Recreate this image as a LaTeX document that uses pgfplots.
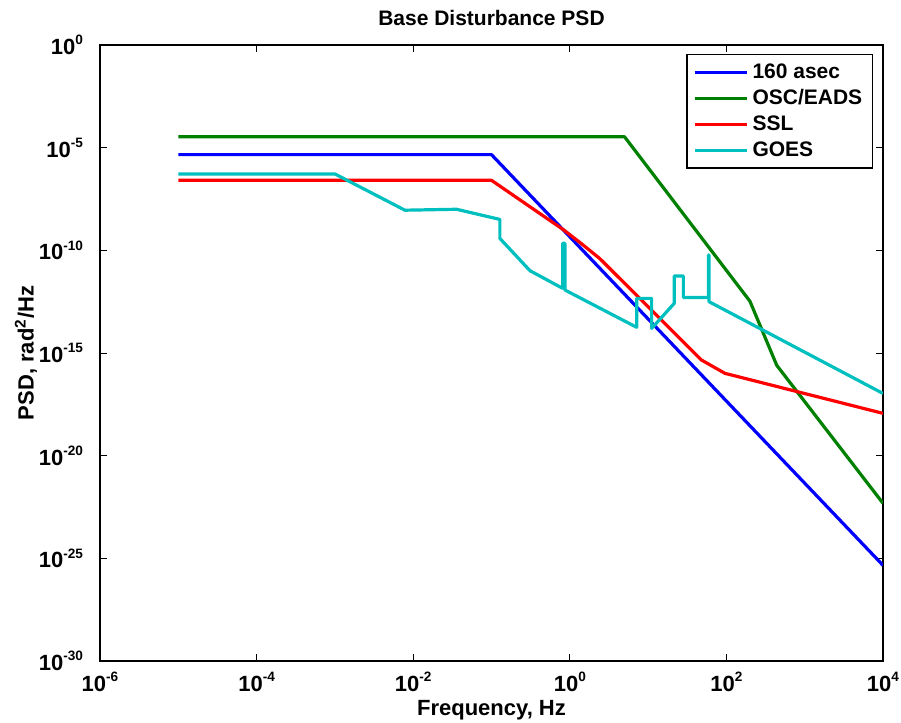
\documentclass[border=0pt]{standalone}
\usepackage{fontspec}
\setmainfont{Liberation Sans}
\usepackage{pgfplots}
\pgfplotsset{compat=1.18}
\usetikzlibrary{calc}
\definecolor{mblue}{rgb}{0,0,1}
\definecolor{mgreen}{rgb}{0,0.5,0}
\definecolor{mred}{rgb}{1,0,0}
\definecolor{mcyan}{rgb}{0,0.75,0.75}
\newcommand{\tl}[1]{\textbf{10}\raisebox{0.85ex}{\fontsize{6.8}{8}\selectfont\bfseries #1}}
\begin{document}
\begin{tikzpicture}
\begin{axis}[
  scale only axis,
  width=391.5pt, height=308pt,
  xmode=log, ymode=log,
  xmin=1e-6, xmax=1e4, ymin=1e-30, ymax=1,
  xtick={1e-6,1e-4,1e-2,1,1e2,1e4},
  xticklabels={\tl{-6},\tl{-4},\tl{-2},\tl{0},\tl{2},\tl{4}},
  ytick={1e-30,1e-25,1e-20,1e-15,1e-10,1e-5,1},
  yticklabels={\tl{-30},\tl{-25},\tl{-20},\tl{-15},\tl{-10},\tl{-5},\tl{0}},
  minor tick num=0,
  minor xtick={}, minor ytick={},
  tick align=inside,
  major tick length=3.5pt,
  tick style={line width=0.5pt, black},
  axis line style={line width=0.6pt},
  tick label style={font=\fontsize{11}{13}\selectfont\bfseries},
  xticklabel style={yshift=-2pt},
  yticklabel style={xshift=-5pt},
  title={\textbf{Base Disturbance PSD}},
  title style={font=\fontsize{10.5}{12}\selectfont, yshift=0pt},
  xlabel={\textbf{Frequency, Hz}},
  ylabel={\textbf{PSD, rad\textsuperscript{2}/Hz}},
  label style={font=\fontsize{11}{13}\selectfont},
  xlabel style={yshift=2.5pt},
  ylabel style={yshift=-6pt},
  legend style={at={(rel axis cs:0.987,0.985)}, anchor=north east,
    font=\fontsize{10.5}{13}\selectfont\bfseries, draw=black, line width=0.6pt,
    inner xsep=3pt, inner ysep=2.5pt, row sep=0pt},
  legend cell align=left,
  legend image code/.code={\draw[#1, line width=1.6pt] (0cm,0cm) -- (0.92cm,0cm);},
  every axis plot/.append style={line width=1.6pt, line join=round},
  clip=true,
]
\path (rel axis cs:0,0) coordinate (bl) (rel axis cs:1,1) coordinate (tr);
\addplot[mblue] coordinates {(1e-5,4.57e-6) (0.1,4.57e-6) (1e4,4.57e-26)};
\addlegendentry{160 asec}
\addplot[mgreen] coordinates {(1e-5,3.4e-5) (5,3.4e-5) (200,3.3e-13) (440,2.5e-16) (1e4,4.8e-23)};
\addlegendentry{OSC/EADS}
\addplot[mred] coordinates {(1e-5,2.57e-7) (0.1,2.57e-7) (0.316,1.26e-8) (0.832,1.0e-9) (1.413,2.09e-10) (2.43,3.89e-11) (47.9,4.57e-16) (96,1.02e-16) (1e4,1.15e-18)};
\addlegendentry{SSL}
\addplot[mcyan] coordinates {
 (1e-5,5.25e-7) (1e-3,5.25e-7) (0.00785,9e-9) (0.0358,1.0e-8) (0.128,3.2e-9)
 (0.128,3.8e-10) (0.31,1.02e-11) (0.81,1.41e-12) (0.81,2.2e-10) (0.867,2.2e-10)
 (0.867,1.17e-12) (7.15,1.78e-14) (7.15,4.57e-13) (11.1,4.57e-13) (11.1,1.58e-14)
 (21.6,2.63e-13) (21.6,5.6e-12) (28.2,5.6e-12) (28.2,5.1e-13) (58.9,5.1e-13)
 (58.9,5.9e-11) (60,5.9e-11) (60,3.16e-13) (1e4,1.07e-17)};
\addlegendentry{GOES}
\end{axis}
\pgfresetboundingbox
\useasboundingbox ($(bl)+(-50pt,-31pt)$) rectangle ($(tr)+(9pt,22.5pt)$);
\end{tikzpicture}
\end{document}
